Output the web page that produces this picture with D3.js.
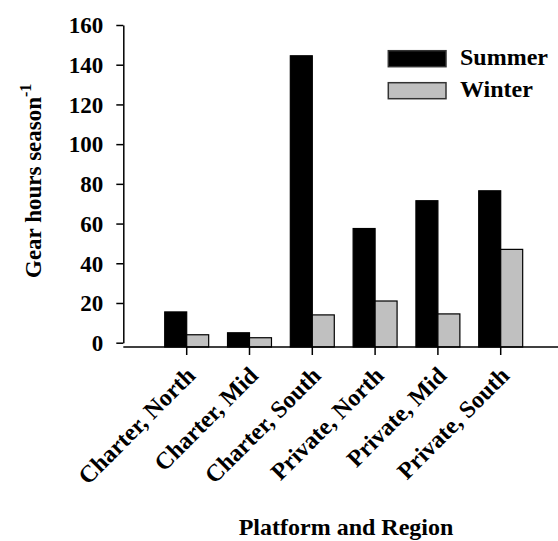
<!DOCTYPE html>
<html><head><meta charset="utf-8">
<script src="https://cdn.jsdelivr.net/npm/d3@7"></script>
<style>body{margin:0;background:#fff;} text{font-family:"Liberation Serif","Times New Roman",serif;font-weight:bold;fill:#000;}</style>
</head><body><svg id="c" width="558" height="541"></svg>
<script>
const categories = ["Charter, North","Charter, Mid","Charter, South","Private, North","Private, Mid","Private, South"];
const summer = [15.5, 5, 144.5, 57.5, 71.5, 76.5];
const winter = [4, 2.5, 14, 21, 14.5, 47];
const seriesNames = ["Summer","Winter"];
const seriesColors = ["#000000","#c0c0c0"];
const yTicks = [0,20,40,60,80,100,120,140,160];

const svg = d3.select("#c");
const axisY = 347;
const x = d3.scaleBand().domain(categories).range([155.3, 532.1]).paddingInner(0.3).paddingOuter(0.15);
const y = d3.scaleLinear().domain([0,160]).range([342.7, 25]);

// bars
const data = categories.map((c,i)=>({c, vals:[summer[i], winter[i]]}));
const x1 = d3.scaleBand().domain([0,1]).range([0, x.bandwidth()]);
const g = svg.append("g");
data.forEach(d=>{
  d.vals.forEach((v,k)=>{
    g.append("rect")
      .attr("x", x(d.c)+x1(k)).attr("width", x1.bandwidth())
      .attr("y", y(v)).attr("height", axisY - y(v))
      .attr("fill", seriesColors[k]).attr("stroke","#000").attr("stroke-width",1.2);
  });
});

// y axis
const yAxis = svg.append("g").attr("transform","translate(123.3,0)")
  .call(d3.axisLeft(y).tickValues(yTicks).tickSize(7).tickPadding(13).tickSizeOuter(0));
yAxis.select(".domain").attr("stroke","#000").attr("stroke-width",1.5);
yAxis.selectAll(".tick line").attr("stroke","#000").attr("stroke-width",1.5);
yAxis.selectAll("text").style("font-size","23px").attr("dy","0.34em");

// x axis
const xAxis = svg.append("g").attr("transform",`translate(0,${axisY})`)
  .call(d3.axisBottom(x).tickSize(8).tickSizeOuter(0).tickFormat(""));
xAxis.select(".domain").attr("d", "M123.3,0H558").attr("stroke","#000").attr("stroke-width",1.5);
xAxis.selectAll(".tick line").attr("stroke","#000").attr("stroke-width",1.5);
xAxis.selectAll(".tick").append("text")
  .attr("text-anchor","end")
  .attr("transform","translate(10,30) rotate(-45)")
  .style("font-size","24px")
  .text(d=>d);

// axis titles
svg.append("text").attr("transform","translate(41,278) rotate(-90)")
  .style("font-size","23px")
  .html('Gear hours season<tspan dy="-10" style="font-size:16px">-1</tspan>');
svg.append("text").attr("x",346).attr("y",535).attr("text-anchor","middle").style("font-size","24px").text("Platform and Region");

// legend
const leg = svg.append("g");
seriesNames.forEach((n,k)=>{
  leg.append("rect").attr("x",388.3).attr("y",50.7+k*32).attr("width",57.7).attr("height",16)
    .attr("fill",seriesColors[k]).attr("stroke","#333").attr("stroke-width",1.5);
  leg.append("text").attr("x",460).attr("y",65+k*31.5).style("font-size","24px").text(n);
});
</script></body></html>
